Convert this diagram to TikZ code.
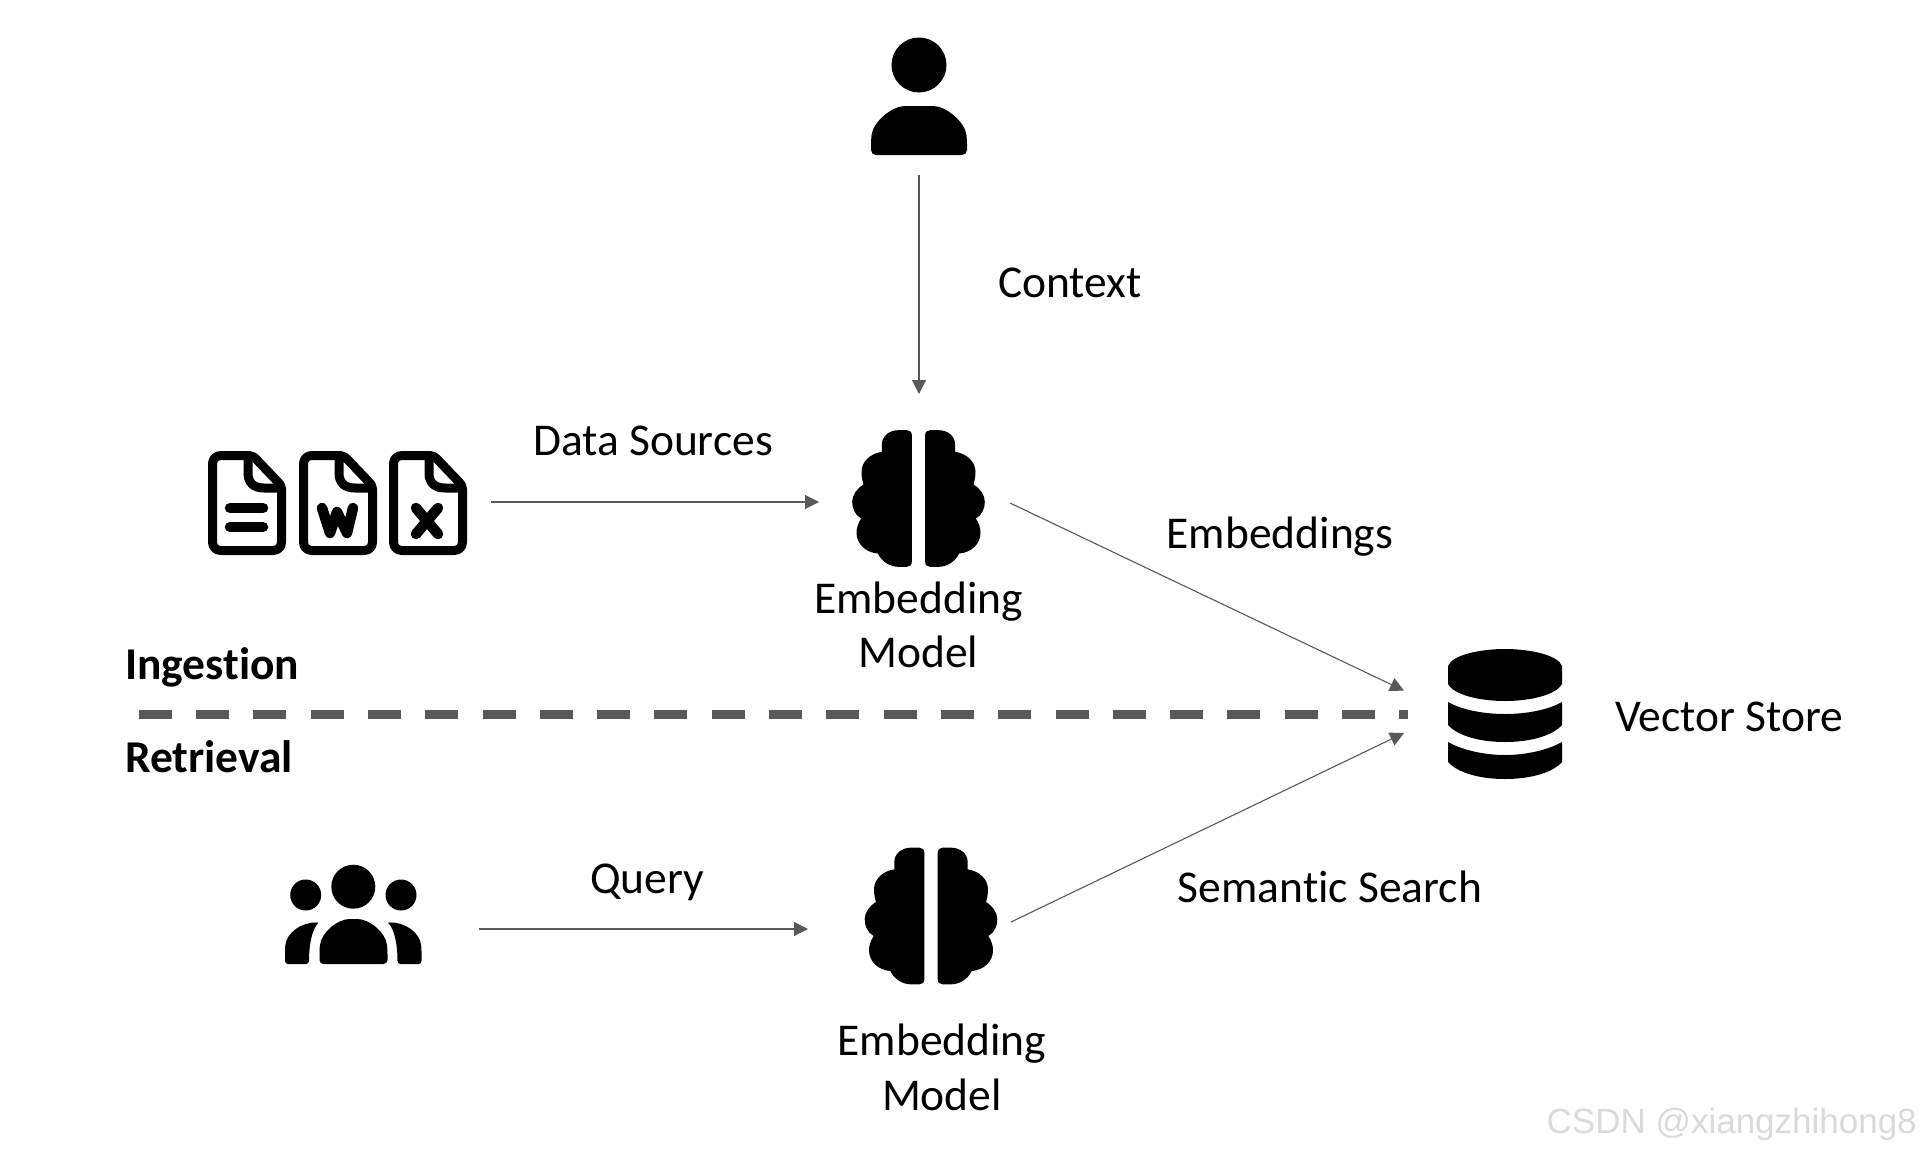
\documentclass[tikz,border=0pt]{standalone}
\usepackage{fontspec}
\setmainfont{Carlito}[RawFeature=-liga]
\newfontfamily\wmfont{Liberation Sans}
\usetikzlibrary{arrows.meta,calc}
\definecolor{linegrey}{HTML}{595959}
\definecolor{wmgrey}{HTML}{DADADA}
\tikzset{
  x=1pt,y=-1pt,
  lbl/.style={font=\fontsize{45.5}{54.5}\selectfont,align=center,inner sep=0pt,text=black},
  blbl/.style={font=\fontsize{45.5}{54.5}\selectfont\bfseries,anchor=west,inner sep=0pt,text=black},
  iconbox/.style={inner sep=0pt,outer sep=0pt,draw=none,fill=none},
  conn/.style={draw=linegrey,line width=1.1pt,-{Triangle[length=14pt,width=14pt]}},
  sep/.style={draw=linegrey,line width=8.6pt,dash pattern=on 33pt off 24.3pt},
  docline/.style={line width=9pt,draw=black,line join=round,line cap=round},
  docmark/.style={line width=10.5pt,draw=black,line join=round,line cap=round},
  pics/docicon/.style={code={
    \draw[docline] (25,4.5) -- (13,4.5) .. controls (8,4.5) and (4.5,8) .. (4.5,13)
      -- (4.5,91) .. controls (4.5,96) and (8,99.5) .. (13,99.5)
      -- (65,99.5) .. controls (70,99.5) and (73.5,96) .. (73.5,91)
      -- (73.5,38) .. controls (73.5,35) and (72,33) .. (70,31)
      -- (48,8) .. controls (46,6) and (44,4.5) .. (41,4.5) -- cycle;
    \draw[docline] (40,6) -- (40,22) .. controls (40,32) and (46,37) .. (56,37) -- (72,37);
  }},
  pics/brainicon/.style={code={
    \foreach \s in {1,-1}{
    \fill[black,xscale=\s*0.33333,yscale=0.33333]
      (-20,-190) .. controls (-20,-200) and (-27,-205) .. (-35,-205)
      -- (-60,-205) .. controls (-90,-205) and (-110,-185) .. (-110,-162)
      -- (-110,-140) .. controls (-145,-135) and (-171,-110) .. (-171,-80)
      .. controls (-171,-65) and (-168,-52) .. (-165,-42)
      .. controls (-185,-30) and (-199,-10) .. (-199,10)
      .. controls (-199,30) and (-190,50) .. (-172,60)
      .. controls (-182,75) and (-186,90) .. (-186,103)
      .. controls (-186,135) and (-160,162) .. (-122,165)
      .. controls (-110,190) and (-85,205) .. (-60,205)
      -- (-35,205) .. controls (-27,205) and (-20,200) .. (-20,190) -- cycle;
    }
  }},
}
\begin{document}
\begin{tikzpicture}
\useasboundingbox (0,0) rectangle (1920,1154);
% icon nodes (invisible holders, sized so that their anchors sit at the connector ends)
\node[iconbox,minimum width=96pt,minimum height=135pt] (person) at (919,107.5) {};
\node[iconbox,minimum width=192pt,minimum height=104pt] (docs) at (395,502) {};
\node[iconbox,minimum width=252pt,minimum height=45pt] (users) at (353,929) {};
\coordinate (ctxEnd) at (919,394);
\coordinate (dsEnd) at (819,502);
\coordinate (qEnd) at (808,929);
\coordinate (embStart) at (1010,503);
\coordinate (semStart) at (1011,922);
\coordinate (vsUp) at (1404,690.6);
\coordinate (vsLow) at (1404,733);
\coordinate (sepL) at (138.7,714.5);
\coordinate (sepR) at (1408,714.5);

% person
\fill[black] (919,65) circle (27.5);
\fill[black,rounded corners=5pt] (871,155) -- (871,140) .. controls (873,122) and (892,106) .. (910,106)
  -- (928,106) .. controls (946,106) and (965,122) .. (967,140) -- (967,155) -- cycle;

% documents
\pic at (208,451) {docicon};
\pic at (299,451) {docicon};
\pic at (389,451) {docicon};
\draw[docmark] (230,508) -- (263,508);
\draw[docmark] (230,527) -- (263,527);
\draw[docmark] (322,508) -- (330,533) -- (337,512) -- (347,533) -- (353,508);
\draw[docmark] (416,508) -- (438,534);
\draw[docmark] (438,508) -- (416,534);

% brains
\pic at (918.5,498.5) {brainicon};
\pic at (931,916) {brainicon};

% users
\fill[black] (353.3,886.7) circle (22);
\fill[black] (305.7,895) circle (15.5);
\fill[black] (401,895) circle (15.5);
\fill[black,rounded corners=4pt] (319.5,964) -- (319.5,950) .. controls (321,932) and (338,919) .. (353.5,919)
  .. controls (369,919) and (386,932) .. (387.5,950) -- (387.5,964) -- cycle;
\fill[black,rounded corners=3pt] (285,964) -- (285,948) .. controls (287,932) and (302,922) .. (320,922.5)
  .. controls (316,925) and (309,935) .. (309,964) -- cycle;
\fill[black,rounded corners=3pt] (421.5,964) -- (421.5,948) .. controls (419.5,932) and (404.5,922) .. (386.5,922.5)
  .. controls (390.5,925) and (397.5,935) .. (397.5,964) -- cycle;

% database
\fill[black] (1448,666) .. controls (1452,655) and (1480,649) .. (1505,649)
  .. controls (1530,649) and (1558,655) .. (1562,666) -- (1562,684)
  .. controls (1556,695) and (1530,701) .. (1505,701)
  .. controls (1480,701) and (1454,695) .. (1448,684) -- cycle;
\fill[black] (1448,702) .. controls (1462,710) and (1484,714) .. (1505,714)
  .. controls (1526,714) and (1548,710) .. (1562,702) -- (1562,725)
  .. controls (1552,736) and (1530,742) .. (1505,742)
  .. controls (1480,742) and (1458,736) .. (1448,725) -- cycle;
\fill[black] (1448,742) .. controls (1462,750) and (1484,755) .. (1505,755)
  .. controls (1526,755) and (1548,750) .. (1562,742) -- (1562,762)
  .. controls (1552,773) and (1530,779) .. (1505,779)
  .. controls (1480,779) and (1458,773) .. (1448,762) -- cycle;

% separator
\draw[sep] (sepL) -- (sepR);

% connectors
\draw[conn] (person.south) -- (ctxEnd);
\draw[conn] (docs.east) -- (dsEnd);
\draw[conn] (users.east) -- (qEnd);
\draw[conn] (embStart) -- (vsUp);
\draw[conn] (semStart) -- (vsLow);

% labels
\node[lbl] (ctx) at (1070,283) {Context};
\node[lbl] (ds) at (653,441) {Data Sources};
\node[lbl] (em1) at (918.5,625) {Embedding\\Model};
\node[lbl] (emb) at (1280,536.5) {Embeddings};
\node[blbl] (ing) at (125,667.5) {Ingestion};
\node[blbl] (ret) at (125,757) {Retrieval};
\node[lbl] (vs) at (1729,717) {Vector Store};
\node[lbl] (q) at (647,882.5) {Query};
\node[lbl] (sem) at (1330,887) {Semantic Search};
\node[lbl] (em2) at (942,1067.5) {Embedding\\Model};
\node[inner sep=0pt,anchor=east,text=wmgrey,font=\wmfont\fontsize{35}{40}\selectfont] (wm) at (1917,1124) {CSDN @xiangzhihong8};
\end{tikzpicture}
\end{document}
